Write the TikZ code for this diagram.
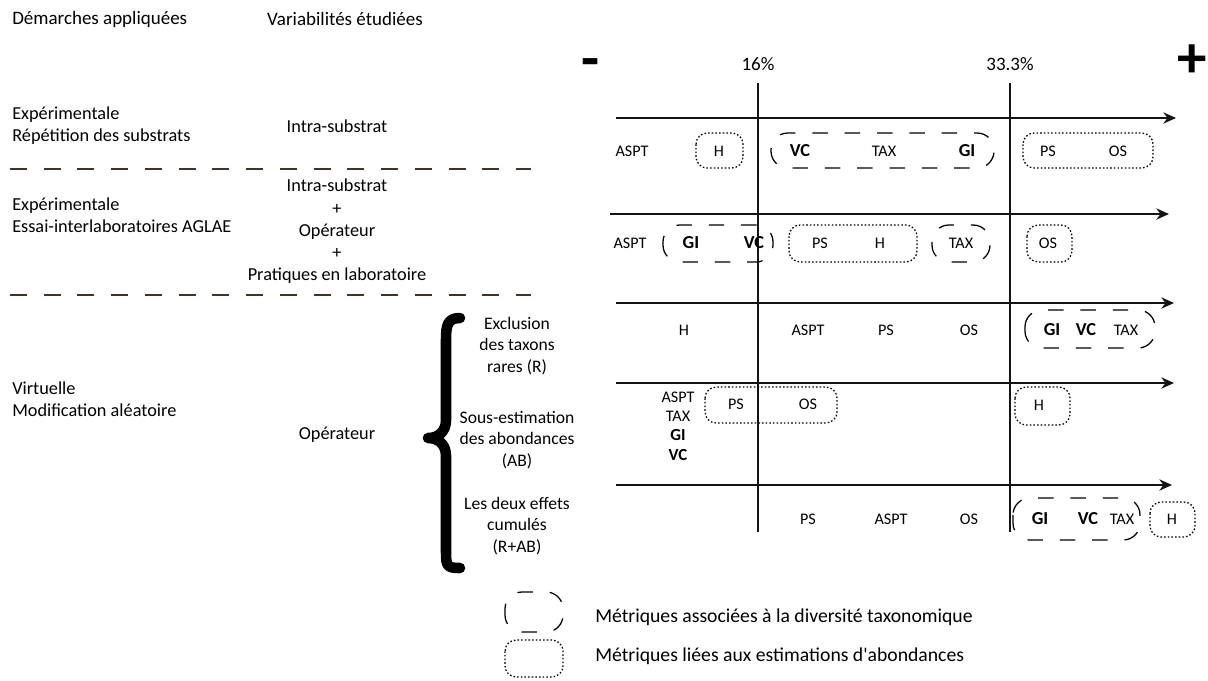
\documentclass[tikz,border=0pt]{standalone}
\usepackage{fontspec}
\setmainfont{Carlito}
\usepackage{tikz}
\usetikzlibrary{arrows.meta}
\definecolor{figdark}{RGB}{20,20,20}
\definecolor{figsep}{RGB}{70,48,45}
\begin{document}
\begin{tikzpicture}[x=0.025cm,y=-0.025cm,
		txt/.style={font=\fontsize{13}{15.8}\selectfont},
		hd/.style={font=\fontsize{13.5}{16}\selectfont},
		leg/.style={font=\fontsize{14}{16}\selectfont,anchor=west,inner sep=0},
		met/.style={font=\fontsize{11.5}{13.7}\selectfont},
		metb/.style={font=\fontsize{13}{14}\selectfont\bfseries},
		sub/.style={align=center,font=\fontsize{12.5}{15.2}\selectfont},
		sign/.style={font=\fontsize{42}{42}\selectfont\bfseries,inner sep=0},
		axis/.style={line width=1.4pt,figdark,-{Stealth[length=9pt,width=8pt]}},
		vline/.style={line width=1.1pt,figdark},
		taxbox/.style={line width=0.9pt,dash pattern=on 11pt off 12pt,rounded corners=12pt},
		abbox/.style={line width=0.9pt,dash pattern=on 1.1pt off 1.5pt,rounded corners=8pt},
		sepline/.style={line width=1.3pt,figsep,dash pattern=on 12pt off 12pt}]
			\useasboundingbox (0,0) rectangle (1208,680);
			\node[hd,anchor=west,inner sep=0] (hdA) at (12,19) {Démarches appliquées};
			\node[hd] (hdV) at (345,19) {Variabilités étudiées};
			\node[txt,anchor=west,align=left,inner sep=0] (expA) at (12,126) {Expérimentale\\Répétition des substrats};
			\node[txt] (intraA) at (337,126) {Intra-substrat};
			\draw[sepline] (10,169) -- (531,169);
			\node[txt,anchor=west,align=left,inner sep=0] (expB) at (12,215.5) {Expérimentale\\Essai-interlaboratoires AGLAE};
			\node[txt,align=center] (intraB) at (337,231.5) {Intra-substrat\\+\\Opérateur\\+\\Pratiques en laboratoire};
			\draw[sepline] (10,295) -- (531,295);
			\node[txt,anchor=west,align=left,inner sep=0] (virt) at (12,399) {Virtuelle\\Modification aléatoire};
			\node[txt] (oper) at (337,435) {Opérateur};
			\draw[line width=7.5pt,line cap=round,line join=round] (460,318) .. controls (447,318) and (446,326) .. (446,340) -- (446,420) .. controls (446,432) and (438,438) .. (428,438) .. controls (438,438) and (446,444) .. (446,456) -- (446,552) .. controls (446,566) and (447,568) .. (460,568);
			\node[sub] (exclu) at (517,346) {Exclusion\\des taxons\\rares (R)};
			\node[sub] (sousest) at (517,440) {Sous-estimation\\des abondances\\(AB)};
			\node[sub] (cumul) at (517,526) {Les deux effets\\cumulés\\(R+AB)};
			\node[sign] (minus) at (591,69) {-};
			\node[sign] (plus) at (1192,61) {+};
			\node[hd] (pc16) at (758,64) {16\%};
			\node[hd] (pc33) at (1010,64) {33.3\%};
			\draw[vline] (758,83) -- (758,532);
			\draw[vline] (1010,83) -- (1010,532);
			\draw[axis] (616,118) -- (1176,118);
			\draw[axis] (610,214) -- (1169,214);
			\draw[axis] (616,303) -- (1174,303);
			\draw[axis] (616,383) -- (1174,383);
			\draw[axis] (616,485) -- (1172,485);
			\node[met] (r1aspt) at (632,151) {ASPT};
			\node[met] (r1h) at (719,151) {H};
			\node[metb] (r1vc) at (800,151) {VC};
			\node[met] (r1tax) at (884,151) {TAX};
			\node[metb] (r1gi) at (967,151) {GI};
			\node[met] (r1ps) at (1048,151) {PS};
			\node[met] (r1os) at (1118,151) {OS};
			\draw[abbox] (696,133) rectangle (743,168);
			\draw[taxbox] (771,133) rectangle (994,168);
			\draw[abbox] (1023,133) rectangle (1153,168);
			\node[met] (r2aspt) at (630,243) {ASPT};
			\node[metb] (r2gi) at (691,243) {GI};
			\node[metb] (r2vc) at (754,243) {VC};
			\node[met] (r2ps) at (820,243) {PS};
			\node[met] (r2h) at (880,243) {H};
			\node[met] (r2tax) at (961,243) {TAX};
			\node[met] (r2os) at (1048,243) {OS};
			\draw[taxbox] (663,225) rectangle (773,262);
			\draw[abbox] (789,225) rectangle (917,262);
			\draw[taxbox] (932,225) rectangle (990,262);
			\draw[abbox] (1027,225) rectangle (1072,262);
			\node[met] (r3h) at (684,330) {H};
			\node[met] (r3aspt) at (808,330) {ASPT};
			\node[met] (r3ps) at (886,330) {PS};
			\node[met] (r3os) at (969,330) {OS};
			\node[metb] (r3gi) at (1052,330) {GI};
			\node[metb] (r3vc) at (1086,330) {VC};
			\node[met] (r3tax) at (1126,330) {TAX};
			\draw[taxbox] (1025,310) rectangle (1155,348);
			\node[met,align=center] (r4stack) at (678,426) {ASPT\\TAX\\\textbf{\large GI}\\\textbf{\large VC}};
			\node[met] (r4ps) at (736,404) {PS};
			\node[met] (r4os) at (808,404) {OS};
			\node[met] (r4h) at (1039,405) {H};
			\draw[abbox] (705,387) rectangle (837,423);
			\draw[abbox] (1015,387) rectangle (1070,425);
			\node[met] (r5ps) at (808,519) {PS};
			\node[met] (r5aspt) at (891,519) {ASPT};
			\node[met] (r5os) at (969,519) {OS};
			\node[metb] (r5gi) at (1040,519) {GI};
			\node[metb] (r5vc) at (1088,519) {VC};
			\node[met] (r5tax) at (1122,519) {TAX};
			\node[met] (r5h) at (1172,519) {H};
			\draw[taxbox] (1013,498) rectangle (1140,540);
			\draw[abbox] (1150,502) rectangle (1195,537);
			\draw[taxbox] (505,592) rectangle (563,632);
			\node[leg] (legtax) at (595,617) {Métriques associées à la diversité taxonomique};
			\draw[abbox] (505,640) rectangle (563,677);
			\node[leg] (legab) at (595,656) {Métriques liées aux estimations d\textquotesingle abondances};
		\end{tikzpicture}
\end{document}
